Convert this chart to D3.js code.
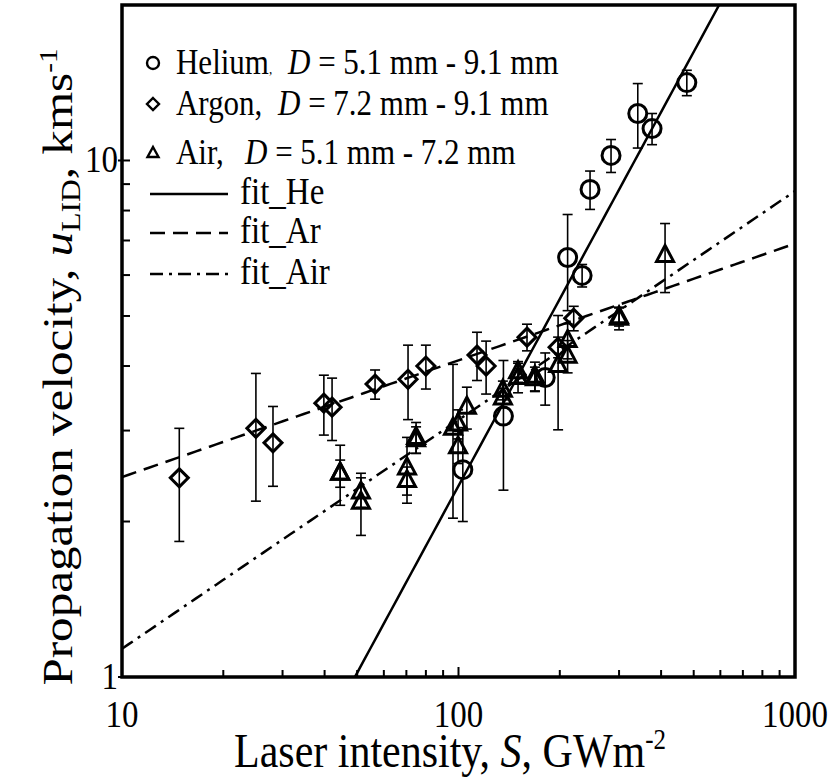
<!DOCTYPE html>
<html>
<head>
<meta charset="utf-8">
<script src="https://cdn.jsdelivr.net/npm/d3@7"></script>
<style>
	body { margin: 0; background: #fff; }
</style>
</head>
<body>
<div id="chart"></div>
<script>
// Helium, D = 5.1 mm - 9.1 mm
const heS = [103, 136, 181, 211, 233, 246, 284, 341, 376, 477];
const heU = [2.52, 3.2, 3.8, 6.49, 5.99, 8.79, 10.23, 12.33, 11.53, 14.15];
const heErr = [0.52, 0.9, 0.44, 1.37, 0.3, 0.75, 0.75, 1.76, 0.8, 0.8];

// Argon, D = 7.2 mm - 9.1 mm
const arS = [14.8, 25.0, 28.1, 39.8, 42.1, 56.5, 70.8, 80, 113.5, 120.8, 159.8, 197.7, 220];
const arU = [2.43, 3.03, 2.84, 3.39, 3.33, 3.69, 3.77, 4.0, 4.2, 4.0, 4.55, 4.35, 4.95];
const arErr = [0.6, 0.84, 0.5, 0.45, 0.46, 0.24, 0.62, 0.39, 0.45, 0.47, 0.27, 0.2, 0.27];

// Air, D = 5.1 mm - 7.2 mm
const airS = [44.5, 44.5, 51.3, 51.3, 70.3, 70.3, 74.8, 74.8, 96.3, 99.7, 99.7, 105.9,
	135.5, 135.5, 150.3, 150.3, 168.7, 168.7, 197.7, 211, 211, 300, 300, 411];
const airU = [2.48, 2.48, 2.28, 2.18, 2.54, 2.4, 2.91, 2.88, 3.03, 3.09, 2.79, 3.33,
	3.59, 3.47, 3.8, 3.9, 3.82, 3.78, 4.01, 4.48, 4.18, 4.95, 4.98, 6.55];
const airErr = [0.33, 0.15, 0.15, 0.3, 0.37, 0.15, 0.2, 0.17, 1.0, 0.2, 0.2, 0.31,
	0.15, 0.15, 0.25, 0.18, 0.25, 0.2, 1.0, 0.35, 0.3, 0.25, 0.2, 1.0];

// power-law fits u = a * S^b
const fitNames = ['fit_He', 'fit_Ar', 'fit_Air'];
const fitA = [0.00925, 1.449, 0.409];
const fitB = [1.202, 0.226, 0.443];
const fitDash = ['none', '15,8', '13,6,3,6'];

const legNames = ['Helium', 'Argon,', 'Air,'];
const legRanges = [' = 5.1 mm - 9.1 mm', ' = 7.2 mm - 9.1 mm', ' = 5.1 mm - 7.2 mm'];

const xTicks = [10, 100, 1000];
const yTicks = [1, 10];

const W = 834, H = 780;
const margin = { left: 122, top: 5, right: 39, bottom: 103 };
const width = W - margin.left - margin.right;
const height = H - margin.top - margin.bottom;
const serif = "'Liberation Serif', 'Times New Roman', serif";
const stretch = 1.17; // text in the original is drawn a bit taller than wide

const svg = d3.select('#chart').append('svg')
	.attr('width', W)
	.attr('height', H)
	.attr('font-family', serif)
	.style('font-family', serif);

const g = svg.append('g')
	.attr('transform', `translate(${margin.left},${margin.top})`);

const x = d3.scaleLog().domain([10, 1000]).range([0, width]);
const y = d3.scaleLog().domain([1, 20]).range([height, 0]);

svg.append('defs').append('clipPath').attr('id', 'clip')
	.append('rect').attr('width', width).attr('height', height);

// tall text helper
function tallText(parent, px, py, size, anchor) {
	return parent.append('text')
		.attr('transform', `translate(${px},${py}) scale(1,${stretch})`)
		.attr('text-anchor', anchor || 'start')
		.style('font-size', size + 'px');
}

// minor + major ticks, pointing inward
const xMinor = [];
for (let d = 10; d < 1000; d *= 10) for (let k = 1; k < 10; k++) xMinor.push(d * k);
xMinor.push(1000);
const yMinor = [1, 2, 3, 4, 5, 6, 7, 8, 9, 10, 20];

g.append('g').selectAll('line').data(xMinor).enter().append('line')
	.attr('x1', (d) => x(d)).attr('x2', (d) => x(d))
	.attr('y1', height).attr('y2', (d) => height - (xTicks.includes(d) ? 10 : 7))
	.attr('stroke', '#000').attr('stroke-width', 2);

g.append('g').selectAll('line').data(yMinor).enter().append('line')
	.attr('y1', (d) => y(d)).attr('y2', (d) => y(d))
	.attr('x1', (d) => (yTicks.includes(d) ? -4 : 0)).attr('x2', 8)
	.attr('stroke', '#000').attr('stroke-width', 2);

// tick labels
xTicks.forEach((d) => {
	tallText(g, x(d), height + 50, 33, 'middle').text(d);
});
yTicks.forEach((d) => {
	tallText(g, -4, y(d) + 12, 33, 'end').text(d);
});

// fit lines
const fitPts = d3.range(0, 101).map((i) => Math.pow(10, 1 + i * 0.02));
const line = d3.line().x((d) => x(d[0])).y((d) => y(d[1]));
fitNames.forEach((name, i) => {
	g.append('path')
		.datum(fitPts.map((s) => [s, fitA[i] * Math.pow(s, fitB[i])]))
		.attr('clip-path', 'url(#clip)')
		.attr('d', line)
		.attr('fill', 'none')
		.attr('stroke', '#000')
		.attr('stroke-width', 2.5)
		.attr('stroke-dasharray', fitDash[i]);
});

// error bars and markers
function drawSeries(S, U, E, shape) {
	const pts = S.map((s, i) => ({ s, u: U[i], e: E[i] }));
	const eb = g.append('g').attr('stroke', '#000').attr('stroke-width', 1.6);
	pts.forEach((p) => {
		const x0 = x(p.s), yt = y(p.u + p.e), yb = y(p.u - p.e);
		eb.append('line').attr('x1', x0).attr('x2', x0).attr('y1', yt).attr('y2', yb);
		eb.append('line').attr('x1', x0 - 5).attr('x2', x0 + 5).attr('y1', yt).attr('y2', yt);
		eb.append('line').attr('x1', x0 - 5).attr('x2', x0 + 5).attr('y1', yb).attr('y2', yb);
	});
	g.append('g').selectAll('path').data(pts).enter().append('path')
		.attr('transform', (d) => `translate(${x(d.s)},${y(d.u)})`)
		.attr('d', shape)
		.attr('fill', 'none')
		.attr('stroke', '#000')
		.attr('stroke-width', 3);
}
const circlePath = d3.symbol().type(d3.symbolCircle).size(Math.PI * 9 * 9)();
const diamondPath = 'M0,-9L9,0L0,9L-9,0Z';
const trianglePath = 'M0,-10L8.5,6L-8.5,6Z';

drawSeries(arS, arU, arErr, diamondPath);
drawSeries(airS, airU, airErr, trianglePath);
drawSeries(heS, heU, heErr, circlePath);

// frame
g.append('rect')
	.attr('width', width).attr('height', height)
	.attr('fill', 'none').attr('stroke', '#000').attr('stroke-width', 3.5);

// legend
const legend = svg.append('g');
const legShapes = [
	'M0,-6A6,6 0 1,1 0,6A6,6 0 1,1 0,-6Z',
	'M0,-6L6,0L0,6L-6,0Z',
	'M0,-6L5.5,4L-5.5,4Z',
];
const legY = [63, 104, 153];
const legDx = [288, 278, 245];
legNames.forEach((name, i) => {
	legend.append('path')
		.attr('transform', `translate(153,${legY[i]})`)
		.attr('d', legShapes[i])
		.attr('fill', 'none').attr('stroke', '#000').attr('stroke-width', 2.4);
	const n = tallText(legend, 176, legY[i] + 11, 31);
	n.append('tspan').text(name);
	if (i === 0) n.append('tspan').style('font-size', '13px').text(',');
	const t = tallText(legend, legDx[i], legY[i] + 11, 31);
	t.append('tspan').style('font-style', 'italic').text('D');
	t.append('tspan').text(legRanges[i]);
});
const fitLegY = [194, 233, 274];
fitNames.forEach((name, i) => {
	legend.append('line')
		.attr('x1', 150).attr('x2', 228).attr('y1', fitLegY[i]).attr('y2', fitLegY[i])
		.attr('stroke', '#000').attr('stroke-width', 2.5)
		.attr('stroke-dasharray', fitDash[i]);
	tallText(legend, 240, fitLegY[i] + 10, 33).text(name);
});

// axis titles
const xt = tallText(svg, 450, 767, 42, 'middle');
xt.append('tspan').text('Laser intensity, ');
xt.append('tspan').style('font-style', 'italic').text('S');
xt.append('tspan').text(', GWm');
xt.append('tspan').attr('dy', -15).style('font-size', '25px').text('-2');

const yt = svg.append('text')
	.attr('transform', `translate(72,367) rotate(-90) scale(${stretch},1)`)
	.attr('text-anchor', 'middle')
	.style('font-size', '42px');
yt.append('tspan').text('Propagation velocity, ');
yt.append('tspan').style('font-style', 'italic').text('u');
yt.append('tspan').attr('dy', 8).style('font-size', '27px').text('LID');
yt.append('tspan').attr('dy', -8).text(', kms');
yt.append('tspan').attr('dy', -15).style('font-size', '25px').text('-1');
</script>
</body>
</html>
